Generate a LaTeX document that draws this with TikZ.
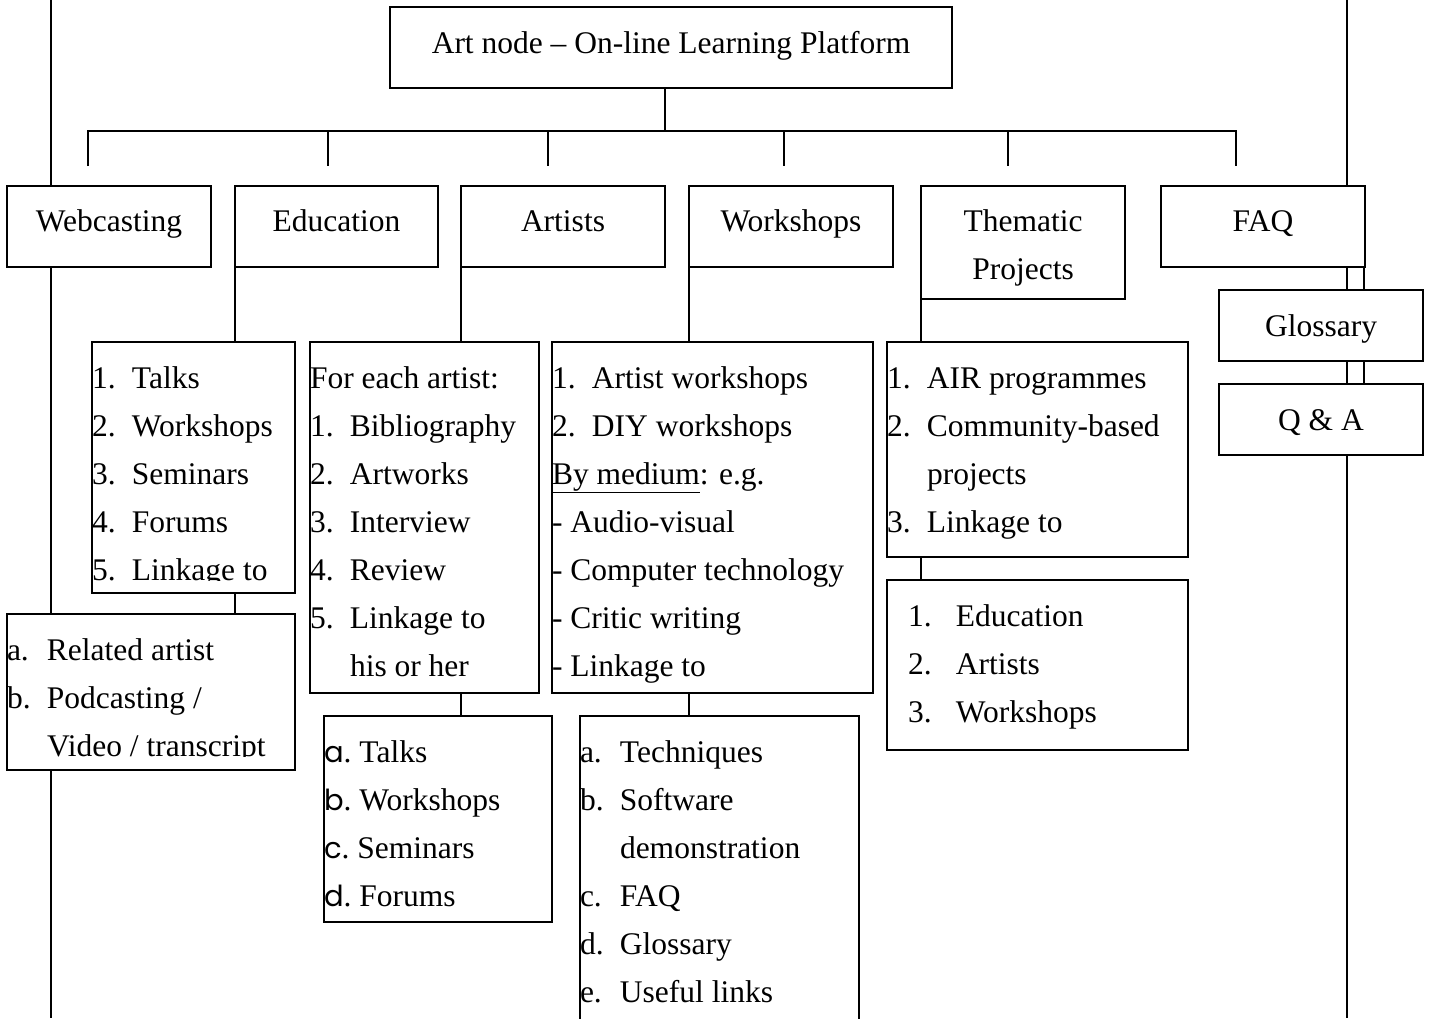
\documentclass[tikz,border=0pt]{standalone}
\usepackage{fontspec}
\setmainfont{Liberation Serif}
\newfontfamily\gothic{Poppins}
\usetikzlibrary{backgrounds}
\newcommand\gl[1]{{\gothic\fontsize{29}{48}\selectfont #1}}
\newcommand\nbx[1]{\makebox[40pt][l]{#1}}
\newcommand\lst[1]{\begin{tabular}[t]{@{}l@{}}#1\end{tabular}}
\begin{document}
\begin{tikzpicture}[x=1pt,y=-1pt, line width=1.5pt,
  every node/.style={font=\fontsize{31.5}{48}\selectfont},
  bx/.style n args={2}{draw, line width=1.5pt, fill=white, inner sep=0pt, outer sep=0pt,
    anchor=north west, text height=#1pt, text depth=#2pt},
  ln/.style={line width=1.5pt},
  patch/.style={fill=white, draw=none}]
\useasboundingbox (0,0) rectangle (1431,1018);

% top
\node[bx={46}{35}] (top) at (390,7) {\makebox[562pt]{Art node -- On-line Learning Platform}};

% second row
\node[bx={45}{36}] (web) at (7,186)   {\makebox[204pt]{Webcasting}};
\node[bx={45}{36}] (edu) at (235,186) {\makebox[203pt]{Education}};
\node[bx={45}{36}] (art) at (461,186) {\makebox[204pt]{Artists}};
\node[bx={45}{36}] (wor) at (689,186) {\makebox[204pt]{Workshops}};
\node[bx={45}{68}] (the) at (921,186) {\makebox[204pt]{\begin{tabular}[t]{@{}c@{}}Thematic\\Projects\end{tabular}}};
\node[bx={45}{36}] (faq) at (1161,186) {\makebox[204pt]{FAQ}};

% FAQ children
\node[bx={46}{25}] (glo) at (1219,290) {\makebox[204pt]{Glossary}};
\node[bx={46}{25}] (qa)  at (1219,384) {\makebox[204pt]{Q \& A}};

% Education list
\node[bx={46}{205}] (edul) at (92,342) {\makebox[203pt][l]{\lst{%
  \nbx{1.}Talks\\ \nbx{2.}Workshops\\ \nbx{3.}Seminars\\ \nbx{4.}Forums\\ \nbx{5.}Linkage to}}};
\node[bx={46}{110}] (rel) at (7,614) {\makebox[288pt][l]{\lst{%
  \nbx{a.}Related artist\\ \nbx{b.}Podcasting /\\ \hspace*{40pt}Video / transcript}}};

% Artists list
\node[bx={46}{305}] (artl) at (310,342) {\makebox[229pt][l]{\lst{%
  For each artist:\\ \nbx{1.}Bibliography\\ \nbx{2.}Artworks\\ \nbx{3.}Interview\\
  \nbx{4.}Review\\ \nbx{5.}Linkage to\\ \hspace*{40pt}his or her}}};
\node[bx={46}{160}] (artsub) at (324,716) {\makebox[228pt][l]{\lst{%
  \gl{a}.\hspace{8pt}Talks\\ \gl{b}.\hspace{8pt}Workshops\\ \gl{c}.\hspace{8pt}Seminars\\ \gl{d}.\hspace{8pt}Forums}}};

% Workshops list
\node[bx={46}{305}] (worl) at (552,342) {\makebox[321pt][l]{\lst{%
  \nbx{1.}Artist workshops\\ \nbx{2.}DIY workshops\\ \underline{By medium}: e.g.\\
  - Audio-visual\\ - Computer technology\\ - Critic writing\\ - Linkage to}}};
\node[bx={46}{284}] (worsub) at (580,716) {\makebox[279pt][l]{\lst{%
  \nbx{a.}Techniques\\ \nbx{b.}Software\\ \hspace*{40pt}demonstration\\
  \nbx{c.}FAQ\\ \nbx{d.}Glossary\\ \nbx{e.}Useful links}}};

% Thematic list
\node[bx={46}{169}] (thel) at (887,342) {\makebox[301pt][l]{\lst{%
  \nbx{1.}AIR programmes\\ \nbx{2.}Community-based\\ \hspace*{40pt}projects\\ \nbx{3.}Linkage to}}};
\node[bx={46}{124}] (thesub) at (887,580) {\makebox[301pt][l]{\lst{%
  \hspace*{21pt}\makebox[48pt][l]{1.}Education\\ \hspace*{21pt}\makebox[48pt][l]{2.}Artists\\
  \hspace*{21pt}\makebox[48pt][l]{3.}Workshops}}};

% clipped last lines (text cut just below its baseline)
\fill[patch] ([xshift=1pt,yshift=1pt]edul.south west) rectangle ([xshift=-1pt,yshift=12pt]edul.south east);
\fill[patch] ([xshift=1pt,yshift=1pt]rel.south west) rectangle ([xshift=-1pt,yshift=13pt]rel.south east);

% connector coordinates
\coordinate (bar) at (665,131);
\coordinate (d1) at (88,166);
\coordinate (d2) at (328,166);
\coordinate (d3) at (548,166);
\coordinate (d4) at (784,166);
\coordinate (d5) at (1008,166);
\coordinate (d6) at (1236,166);
\coordinate (lt) at (51,0);
\coordinate (lb) at (51,1018);
\coordinate (rt) at (1347,0);
\coordinate (rb) at (1347,1018);
\coordinate (rr) at (1364,0);

\begin{scope}[on background layer]
  \draw[ln] (top.south -| bar) -- (bar);
  \draw[ln] (d1) -- (d1 |- bar) -- (d6 |- bar) -- (d6);
  \draw[ln] (d2 |- bar) -- (d2);
  \draw[ln] (d3 |- bar) -- (d3);
  \draw[ln] (d4 |- bar) -- (d4);
  \draw[ln] (d5 |- bar) -- (d5);
  % long side lines
  \draw[ln] (lt) -- (web.north -| lt);
  \draw[ln] (web.south -| lt) -- (lb);
  \draw[ln] (rt) -- (faq.north -| rt);
  \draw[ln] (faq.south -| rt) -- (rb);
  \draw[ln] (faq.south -| rr) -- (glo.north -| rr);
  \draw[ln] (glo.south -| rr) -- (qa.north -| rr);
  % branches
  \draw[ln] (edu.south west) -- (edu.south west |- edul.north);
  \draw[ln] (edul.south -| edu.west) -- (rel.north -| edu.west);
  \draw[ln] (art.south west) -- (art.south west |- artl.north);
  \draw[ln] (artl.south -| art.west) -- (artsub.north -| art.west);
  \draw[ln] (wor.south west) -- (wor.south west |- worl.north);
  \draw[ln] (worl.south -| wor.west) -- (worsub.north -| wor.west);
  \draw[ln] (the.south west) -- (the.south west |- thel.north);
  \draw[ln] (thel.south -| the.west) -- (thesub.north -| the.west);
\end{scope}
\end{tikzpicture}
\end{document}
